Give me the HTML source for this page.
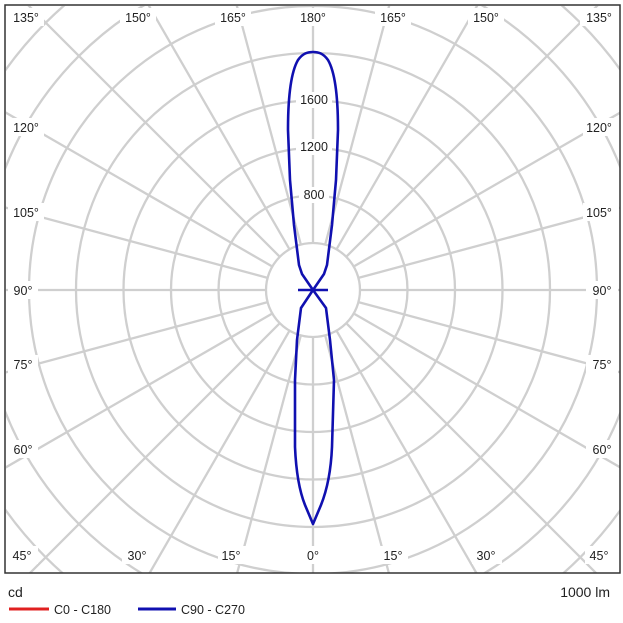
<!DOCTYPE html>
<html><head><style>
html,body{margin:0;padding:0;background:#fff;width:623px;height:623px;overflow:hidden}
svg{display:block;overflow:hidden}
text{font-family:"Liberation Sans",sans-serif;font-size:12.5px;fill:#222}
</style></head><body>
<svg width="623" height="623" viewBox="0 0 623 623">
<defs><clipPath id="c"><rect x="6" y="6" width="614" height="567"/></clipPath></defs>
<g clip-path="url(#c)" stroke="#cfcfcf" stroke-width="2.3" fill="none">
<circle cx="313" cy="290" r="47"/><circle cx="313" cy="290" r="94.5"/><circle cx="313" cy="290" r="142"/>
<circle cx="313" cy="290" r="189.5"/><circle cx="313" cy="290" r="237"/><circle cx="313" cy="290" r="284"/>
<circle cx="313" cy="290" r="331"/><circle cx="313" cy="290" r="378"/><circle cx="313" cy="290" r="425"/>
<g id="rl">
<line x1="313" y1="337" x2="313" y2="900"/>
<line x1="313" y1="337" x2="313" y2="900" transform="rotate(15 313 290)"/>
<line x1="313" y1="337" x2="313" y2="900" transform="rotate(30 313 290)"/>
<line x1="313" y1="337" x2="313" y2="900" transform="rotate(45 313 290)"/>
<line x1="313" y1="337" x2="313" y2="900" transform="rotate(60 313 290)"/>
<line x1="313" y1="337" x2="313" y2="900" transform="rotate(75 313 290)"/>
<line x1="313" y1="337" x2="313" y2="900" transform="rotate(90 313 290)"/>
<line x1="313" y1="337" x2="313" y2="900" transform="rotate(105 313 290)"/>
<line x1="313" y1="337" x2="313" y2="900" transform="rotate(120 313 290)"/>
<line x1="313" y1="337" x2="313" y2="900" transform="rotate(135 313 290)"/>
<line x1="313" y1="337" x2="313" y2="900" transform="rotate(150 313 290)"/>
<line x1="313" y1="337" x2="313" y2="900" transform="rotate(165 313 290)"/>
</g>
<use href="#rl" transform="rotate(180 313 290)"/>
</g>
<g fill="#fff">
<rect x="8" y="8" width="36" height="18"/><rect x="120" y="8" width="36" height="18"/><rect x="215" y="8" width="36" height="18"/><rect x="296" y="8" width="34" height="18"/>
<rect x="375" y="8" width="36" height="18"/><rect x="468" y="8" width="36" height="18"/><rect x="580" y="8" width="38" height="18"/>
<rect x="8" y="118" width="36" height="18"/><rect x="8" y="203" width="36" height="18"/><rect x="8" y="281" width="30" height="18"/><rect x="8" y="355" width="30" height="18"/><rect x="8" y="440" width="30" height="18"/>
<rect x="583" y="118" width="36" height="18"/><rect x="583" y="203" width="36" height="18"/><rect x="586" y="281" width="32" height="18"/><rect x="586" y="355" width="32" height="18"/><rect x="586" y="440" width="32" height="18"/>
<rect x="8" y="546" width="30" height="18"/><rect x="122" y="546" width="30" height="18"/><rect x="218" y="546" width="28" height="18"/><rect x="303" y="546" width="20" height="18"/><rect x="380" y="546" width="28" height="18"/><rect x="472" y="546" width="30" height="18"/><rect x="585" y="546" width="32" height="18"/>
<rect x="296" y="92" width="36" height="16"/><rect x="296" y="139" width="36" height="16"/><rect x="299" y="187" width="30" height="16"/>
</g>
<g text-anchor="middle">
<text x="26" y="22">135°</text><text x="138" y="22">150°</text><text x="233" y="22">165°</text><text x="313" y="22">180°</text><text x="393" y="22">165°</text><text x="486" y="22">150°</text><text x="599" y="22">135°</text>
<text x="26" y="132">120°</text><text x="26" y="217">105°</text><text x="23" y="295">90°</text><text x="23" y="369">75°</text><text x="23" y="454">60°</text>
<text x="599" y="132">120°</text><text x="599" y="217">105°</text><text x="602" y="295">90°</text><text x="602" y="369">75°</text><text x="602" y="454">60°</text>
<text x="22" y="560">45°</text><text x="137" y="560">30°</text><text x="231" y="560">15°</text><text x="313" y="560">0°</text><text x="393" y="560">15°</text><text x="486" y="560">30°</text><text x="599" y="560">45°</text>
<text x="314" y="104">1600</text><text x="314" y="151">1200</text><text x="314" y="199">800</text>
</g>
<path d="M313 290 L302 274 L299 265 L294 225 L290 180 L288 130 C288 95 291 72 298 60 C303 53 308 52 313 52 C318 52 323 53 328 60 C335 72 338 95 338 130 L336 180 L332 225 L327 265 L324 274 Z M313 290 L301 308 L297 340 L295 380 L295 447 C296 470 299 490 305 505 L313 524 L321 505 C327 490 331 470 332 447 L334 380 L330 340 L326 308 Z M298 290 L328 290" fill="none" stroke="#1010b0" stroke-width="2.6" stroke-linejoin="round"/>
<rect x="5" y="5" width="615" height="568" fill="none" stroke="#333" stroke-width="1.5"/>
<text x="8" y="597" style="font-size:14px">cd</text>
<text x="610" y="597" text-anchor="end" style="font-size:14px">1000 lm</text>
<line x1="9" y1="609" x2="49" y2="609" stroke="#e02020" stroke-width="3"/>
<text x="54" y="614">C0 - C180</text>
<line x1="138" y1="609" x2="176" y2="609" stroke="#1010b0" stroke-width="3"/>
<text x="181" y="614">C90 - C270</text>
</svg>
</body></html>
